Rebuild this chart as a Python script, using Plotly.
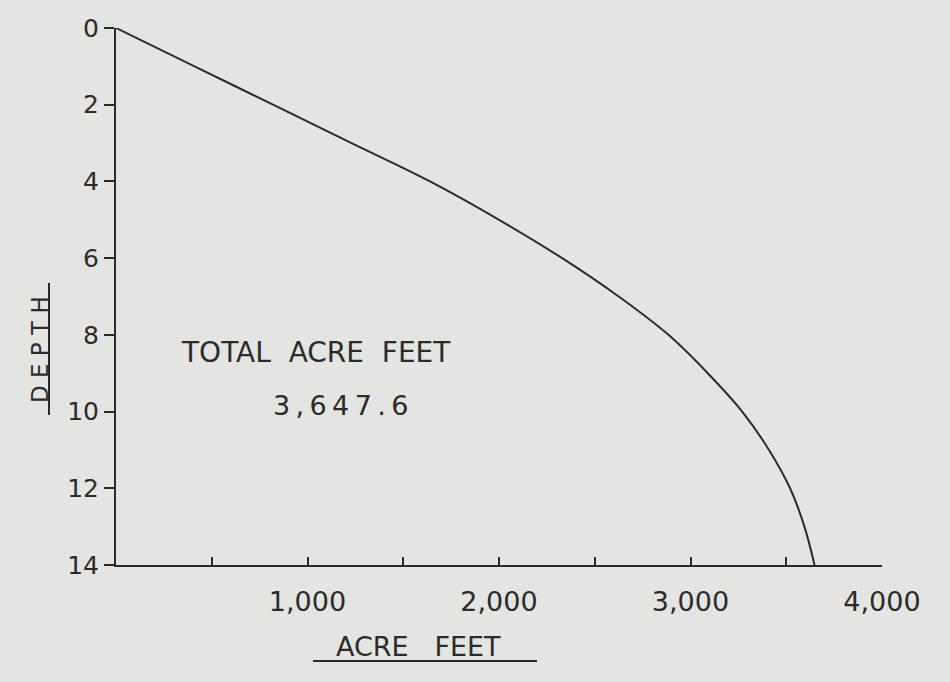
import plotly.graph_objects as go

# ---- data ----
depth = [0, 1, 2, 3, 4, 5, 6, 7, 8, 9, 10, 11, 12, 13, 14]
acre_feet = [0, 410, 820, 1230, 1640, 2000, 2330, 2625, 2885, 3090, 3270, 3410, 3520, 3595, 3647.6]

y_tickvals = [0, 2, 4, 6, 8, 10, 12, 14]
y_ticktext = ["0", "2", "4", "6", "8", "10", "12", "14"]
x_tickvals = [500, 1000, 1500, 2000, 2500, 3000, 3500, 4000]
x_ticktext = ["", "1,000", "", "2,000", "", "3,000", "", "4,000"]

total_label = "TOTAL\u00a0\u00a0ACRE\u00a0\u00a0FEET"
total_value = "3,647.6"

# ---- layout geometry (pixels) ----
W, H = 950, 682
L, R, T, B = 116, 68, 28, 117
PW, PH = W - L - R, H - T - B


def px(xp):
    return (xp - L) / PW


def py(yp):
    return (H - B - yp) / PH


INK = "#2b2b2b"
PAPER = "#e4e4e2"
FONT = "DejaVu Sans"

fig = go.Figure()
fig.add_trace(go.Scatter(
    x=acre_feet, y=depth, mode="lines",
    line=dict(color=INK, width=2, shape="spline", smoothing=1.0),
    hoverinfo="skip", showlegend=False,
))

fig.update_layout(
    width=W, height=H,
    margin=dict(l=L, r=R, t=T, b=B, autoexpand=False),
    paper_bgcolor=PAPER, plot_bgcolor=PAPER,
    font=dict(family=FONT, color=INK),
    showlegend=False,
    hovermode=False,
)

fig.update_xaxes(
    range=[0, 4000], showgrid=False, zeroline=False,
    showline=True, linecolor=INK, linewidth=2,
    tickvals=x_tickvals, ticktext=x_ticktext,
    ticks="inside", ticklen=8, tickwidth=2, tickcolor=INK,
    tickfont=dict(size=27, color=INK, family=FONT),
    ticklabelstandoff=12,
)
fig.update_yaxes(
    range=[14, 0], showgrid=False, zeroline=False,
    showline=True, linecolor=INK, linewidth=2,
    tickvals=y_tickvals, ticktext=y_ticktext,
    ticks="outside", ticklen=10, tickwidth=2, tickcolor=INK,
    tickfont=dict(size=25, color=INK, family=FONT),
    ticklabelstandoff=0,
)

fig.add_annotation(
    x=px(40), y=py(350), xref="paper", yref="paper",
    xanchor="center", yanchor="middle",
    text="D E P T H", textangle=-90, showarrow=False,
    font=dict(size=23, color=INK, family=FONT),
)
fig.add_shape(type="line", xref="paper", yref="paper",
              x0=px(49), x1=px(49), y0=py(415), y1=py(283),
              line=dict(color=INK, width=2))

fig.add_annotation(
    x=px(418), y=py(646), xref="paper", yref="paper",
    xanchor="center", yanchor="middle",
    text="ACRE\u00a0\u00a0\u00a0FEET", showarrow=False,
    font=dict(size=27, color=INK, family=FONT),
)
fig.add_shape(type="line", xref="paper", yref="paper",
              x0=px(313), x1=px(537), y0=py(661), y1=py(661),
              line=dict(color=INK, width=2))

fig.add_annotation(
    x=1044, y=8.45, xref="x", yref="y", text=total_label, showarrow=False,
    xanchor="center", yanchor="middle",
    font=dict(size=28, color=INK, family=FONT),
)
fig.add_annotation(
    x=1170, y=9.83, xref="x", yref="y", text="\u2009".join(total_value), showarrow=False,
    xanchor="center", yanchor="middle",
    font=dict(size=27, color=INK, family=FONT),
)

fig.write_html(
    "out.html",
    config=dict(displayModeBar=False),
    post_script="document.body.style.margin='0';document.body.style.padding='0';",
)
